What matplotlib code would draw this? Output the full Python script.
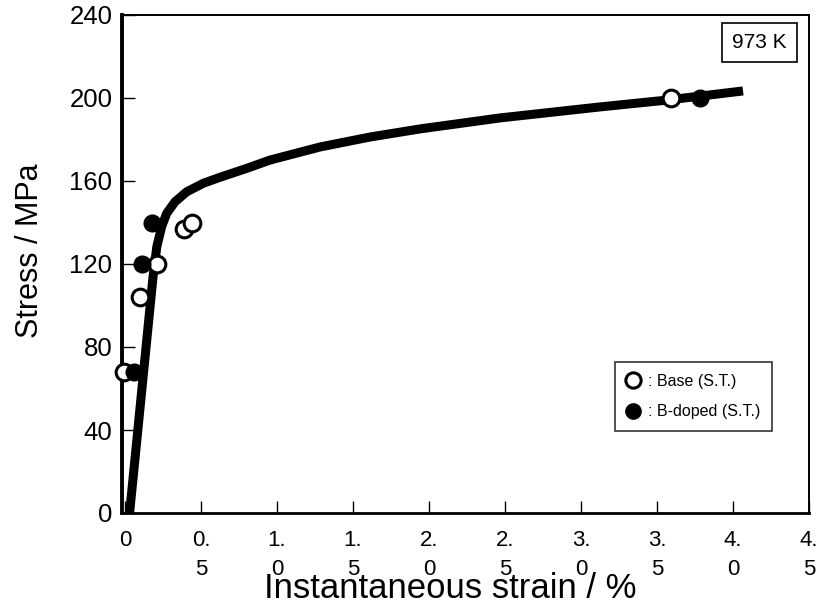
import matplotlib
matplotlib.use("Agg")
import matplotlib.pyplot as plt
from matplotlib.lines import Line2D

plt.rcParams['font.family'] = ['Liberation Sans', 'DejaVu Sans']

# stress-strain curve at 973 K
curve_strain = [0.03, 0.184, 0.209, 0.241, 0.274, 0.329, 0.406, 0.515, 0.625, 0.801,
                0.954, 1.283, 1.612, 1.941, 2.467, 3.125, 3.566, 4.066]
curve_stress = [0.0, 113.7, 128.3, 138.0, 144.4, 150.0, 154.8, 158.9, 161.8, 166.1,
                170.1, 176.4, 181.2, 185.1, 190.4, 195.7, 199.0, 203.4]

# measured points
base_strain = [-0.01, 0.10, 0.21, 0.39, 0.44, 3.59]
base_stress = [68, 104, 120, 137, 140, 200]
bdoped_strain = [0.06, 0.11, 0.18, 3.78]
bdoped_stress = [68, 120, 140, 200]

xticks = [0, 0.5, 1.0, 1.5, 2.0, 2.5, 3.0, 3.5, 4.0, 4.5]
xticklabels = ['0', '0.\n5', '1.\n0', '1.\n5', '2.\n0', '2.\n5', '3.\n0', '3.\n5', '4.\n0', '4.\n5']
yticks = [0, 40, 80, 120, 160, 200, 240]

fig = plt.figure(figsize=(8.2, 6.1), dpi=100)
ax = fig.add_axes([122/820, 1-513/610, (809-122)/820, (513-15)/610])

ax.plot(curve_strain, curve_stress, color='black', lw=6.5, solid_capstyle='butt',
        solid_joinstyle='round', zorder=2)
ax.plot(base_strain, base_stress, 'o', ms=12, mfc='white', mec='black', mew=2.2,
        zorder=3, clip_on=False)
ax.plot(bdoped_strain, bdoped_stress, 'o', ms=12, mfc='black', mec='black',
        zorder=3, clip_on=False)

ax.set_xlim(-0.02, 4.5)
ax.set_ylim(0, 240)
ax.set_xticks(xticks)
ax.set_xticklabels(xticklabels, fontsize=16, linespacing=1.5)
ax.set_yticks(yticks)
ax.set_yticklabels([str(v) for v in yticks], fontsize=18.5)
ax.tick_params(axis='both', direction='in', length=9, width=1, color='black')
ax.tick_params(axis='x', pad=12)
ax.tick_params(axis='y', pad=7)

ax.spines['left'].set_linewidth(2.8)
ax.spines['bottom'].set_linewidth(2.0)
ax.spines['top'].set_linewidth(1.4)
ax.spines['right'].set_linewidth(1.4)

fig.text(30/820, 1-251/610, 'Stress / MPa', rotation=90, ha='center', va='center', fontsize=22)
fig.text(450/820, 1-598/610, 'Instantaneous strain / %', ha='center', va='baseline',
         fontsize=25)

ax.text(0.968, 0.964, '973 K', transform=ax.transAxes, ha='right', va='top', fontsize=15,
        bbox=dict(boxstyle='square,pad=0.5', fc='white', ec='black', lw=1.2))

handles = [
    Line2D([], [], ls='none', marker='o', ms=11, mfc='white', mec='black', mew=2.2),
    Line2D([], [], ls='none', marker='o', ms=11, mfc='black', mec='black'),
]
leg = ax.legend(handles, [': Base (S.T.)', ': B-doped (S.T.)'], loc='upper left',
                bbox_to_anchor=((615-122)/687, (513-362)/498), fontsize=11.5,
                frameon=True, fancybox=False, handlelength=0.8, handletextpad=0.5,
                borderpad=0.75, labelspacing=0.95, borderaxespad=0)
leg.get_frame().set_edgecolor('black')
leg.get_frame().set_linewidth(1.2)

fig.savefig('out.png', dpi=100)
